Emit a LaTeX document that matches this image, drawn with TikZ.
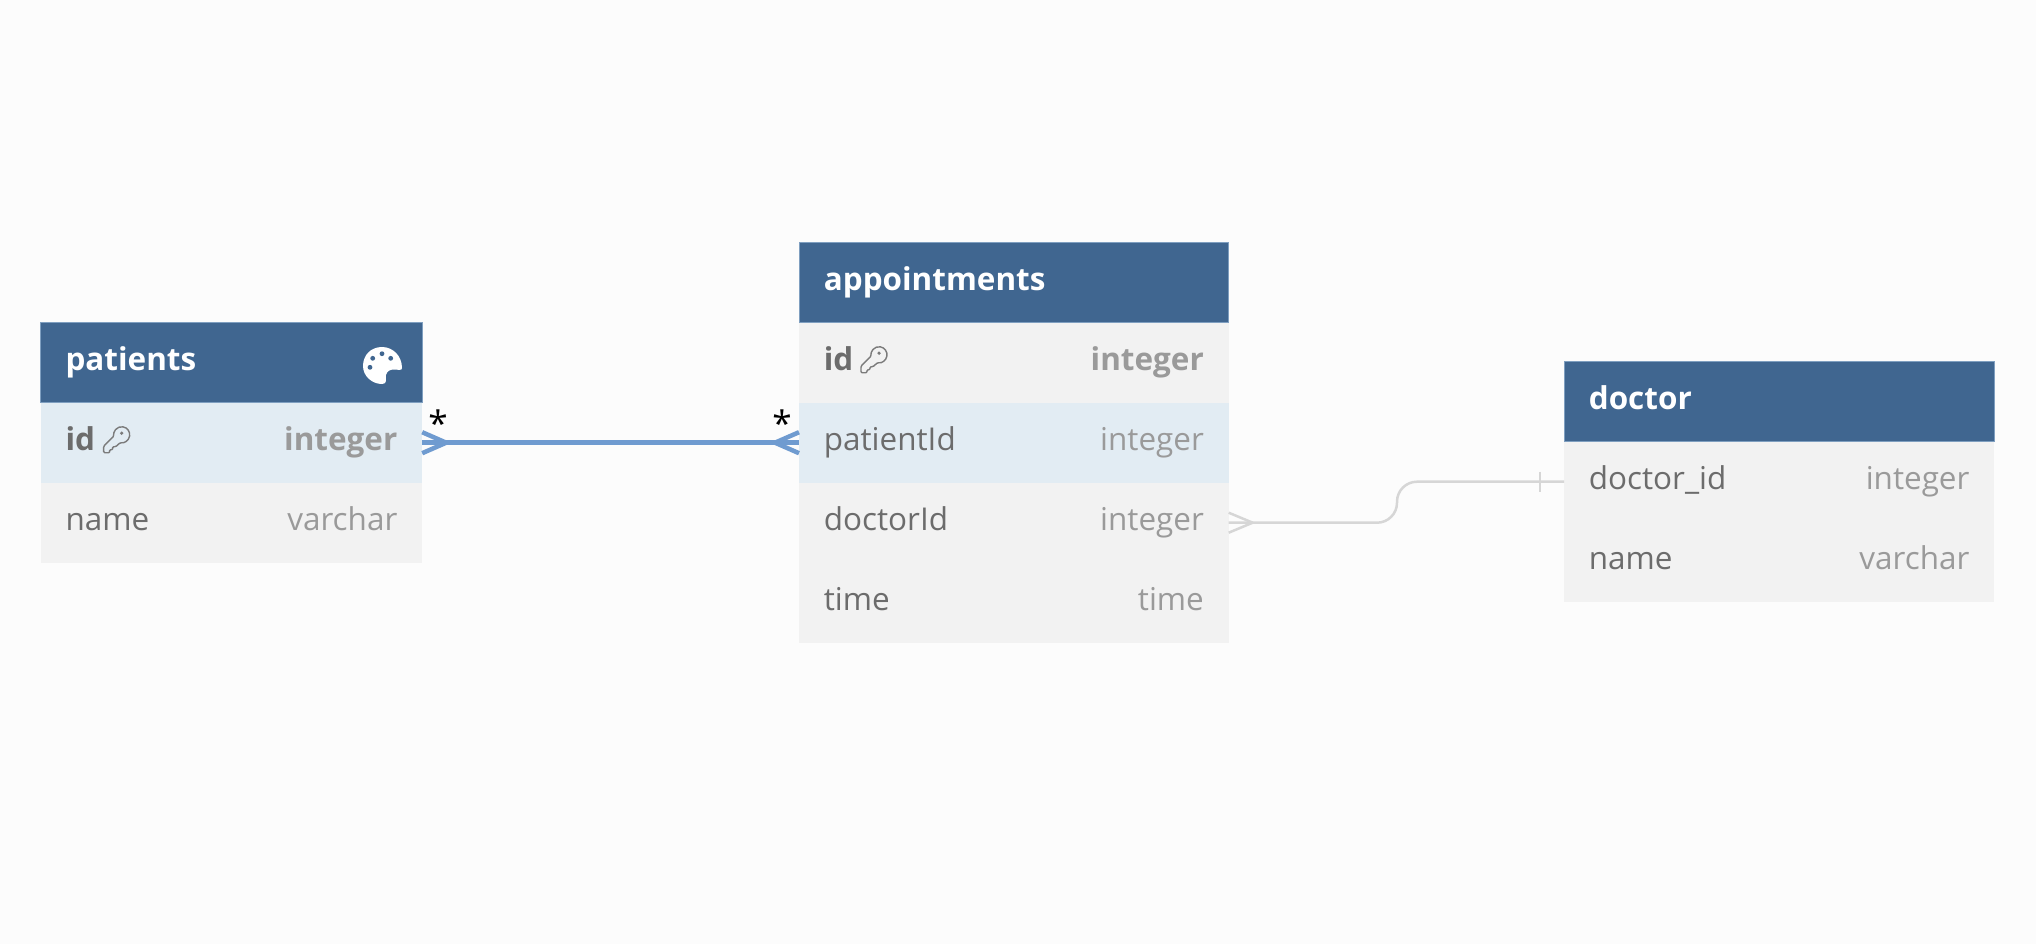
\documentclass[tikz,border=0pt]{standalone}
\usepackage{fontspec}
\setmainfont{Open Sans}
\usepackage{xcolor}
\usetikzlibrary{calc}
\definecolor{pagebg}{HTML}{FCFCFC}
\definecolor{headblue}{HTML}{406690}
\definecolor{headedge}{HTML}{7F9FC0}
\definecolor{rowgray}{HTML}{F2F2F2}
\definecolor{rowblue}{HTML}{E2ECF3}
\definecolor{fieldtext}{HTML}{6C6C6C}
\definecolor{typetext}{HTML}{9A9A9A}
\definecolor{relblue}{HTML}{6F9BD0}
\definecolor{relgray}{HTML}{D6D6D6}
\tikzset{
  tablehead/.style={draw=headedge,line width=0.5pt,fill=headblue,anchor=north west,inner sep=0pt,outer sep=0pt,minimum height=1.6cm,minimum width=#1*0.02cm},
  tablerow/.style={fill=\rowfill,anchor=north west,inner sep=0pt,outer sep=0pt,minimum height=1.6cm,minimum width=#1*0.02cm},
  headname/.style={anchor=base west,inner sep=0pt,white,font=\fontsize{17.9}{20}\selectfont\bfseries},
  fieldname/.style={anchor=base west,inner sep=0pt,fieldtext,font=\fontsize{17.9}{20}\selectfont},
  fieldtype/.style={anchor=base east,inner sep=0pt,typetext,font=\fontsize{17.9}{20}\selectfont},
  crowmark/.style={anchor=base,inner sep=0pt,black,font=\fontsize{20}{24}\selectfont},
  hotline/.style={relblue,line width=0.09cm},
  quietline/.style={relgray,line width=0.05cm},
  keyicon/.pic={
    \draw[fieldtext!90,line width=0.8pt,rounded corners=0.6pt,x=0.02cm,y=0.02cm]
      (3.6,-2.9) arc (-100:190:8) -- (-13,-6.5) -- (-13,-13) -- (-7,-13) -- (-7,-10)
      -- (-4,-10) -- (-4,-7) -- (-1,-7) -- cycle;
    \fill[fieldtext!90,x=0.02cm,y=0.02cm] (5,6.5) circle (1.8);
  }
}
\begin{document}
\begin{tikzpicture}[x=0.02cm,y=-0.02cm]
  \fill[pagebg] (0,0) rectangle (2036,944);
  \useasboundingbox (0,0) rectangle (2036,944);

  % patients
  \node[tablehead=381.5] (pathead) at (40.7,322.7) {};
  \node[headname] (pattitle) at ($(pathead.north west)+(24.5,47.5)$) {patients};
  \foreach \rowid/\ytop/\rowfill/\lab/\typ in {patid/402.7/rowblue/\textbf{id}/\textbf{integer},patname/482.7/rowgray/name/varchar} {
    \node[tablerow=381.5] (\rowid) at (40.7,\ytop) {};
    \node[fieldname] (\rowid-lab) at ($(\rowid.north west)+(24.5,47.5)$) {\lab};
    \node[fieldtype] (\rowid-typ) at ($(\rowid.north east)+(-24.5,47.5)$) {\typ};
  }
  \pic (patkey) at ($(patid.north west)+(76,37)$) {keyicon};
  \fill[white] (402,368) .. controls (402,356) and (393,347) .. (382,347)
    .. controls (371,347) and (363,355) .. (363,366)
    .. controls (363,376) and (372,384) .. (382,384)
    .. controls (388,384) and (385,379) .. (386,375)
    .. controls (387,371) and (390,369.5) .. (394,369.5)
    .. controls (398,369.5) and (402,371) .. (402,368) -- cycle;
  \foreach \dotx/\doty in {372.7/358.3,382/353.7,390.7/358.3,370/367.3} { \fill[headblue] (\dotx,\doty) circle (2.4); }

  % appointments
  \node[tablehead=429.7] (apphead) at (799,242.7) {};
  \node[headname] (apptitle) at ($(apphead.north west)+(24.5,47.5)$) {appointments};
  \foreach \rowid/\ytop/\rowfill/\lab/\typ in {appid/322.7/rowgray/\textbf{id}/\textbf{integer},apppat/402.7/rowblue/patientId/integer,appdoc/482.7/rowgray/doctorId/integer,apptime/562.7/rowgray/time/time} {
    \node[tablerow=429.7] (\rowid) at (799,\ytop) {};
    \node[fieldname] (\rowid-lab) at ($(\rowid.north west)+(24.5,47.5)$) {\lab};
    \node[fieldtype] (\rowid-typ) at ($(\rowid.north east)+(-24.5,47.5)$) {\typ};
  }
  \pic (appkey) at ($(appid.north west)+(75,37)$) {keyicon};

  % doctor
  \node[tablehead=430.3] (dochead) at (1564,361.7) {};
  \node[headname] (doctitle) at ($(dochead.north west)+(24.5,47.5)$) {doctor};
  \foreach \rowid/\ytop/\rowfill/\lab/\typ in {docid/441.7/rowgray/doctor\_id/integer,docname/521.7/rowgray/name/varchar} {
    \node[tablerow=430.3] (\rowid) at (1564,\ytop) {};
    \node[fieldname] (\rowid-lab) at ($(\rowid.north west)+(24.5,47.5)$) {\lab};
    \node[fieldtype] (\rowid-typ) at ($(\rowid.north east)+(-24.5,47.5)$) {\typ};
  }

  % relations
  \draw[hotline] (patid.east) -- (apppat.west);
  \foreach \d in {-10.5,10.5} {
    \draw[hotline] ($(patid.east)+(0,\d)$) -- ($(patid.east)+(24,0)$);
    \draw[hotline] ($(apppat.west)+(0,\d)$) -- ($(apppat.west)+(-24,0)$);
  }
  \node[crowmark] (patstar) at (438,436) {*};
  \node[crowmark] (appstar) at (782,436) {*};

  \coordinate (bendlow) at (1397,522.7);
  \coordinate (bendhigh) at (1397,481.7);
  \draw[quietline,rounded corners=0.4cm] (appdoc.east) -- (bendlow) -- (bendhigh) -- (docid.west);
  \foreach \d in {-10,10} { \draw[quietline] ($(appdoc.east)+(0,\d)$) -- ($(appdoc.east)+(24,0)$); }
  \draw[quietline,line width=0.03cm] ($(docid.west)+(-24,-10)$) -- ($(docid.west)+(-24,10)$);
\end{tikzpicture}
\end{document}
